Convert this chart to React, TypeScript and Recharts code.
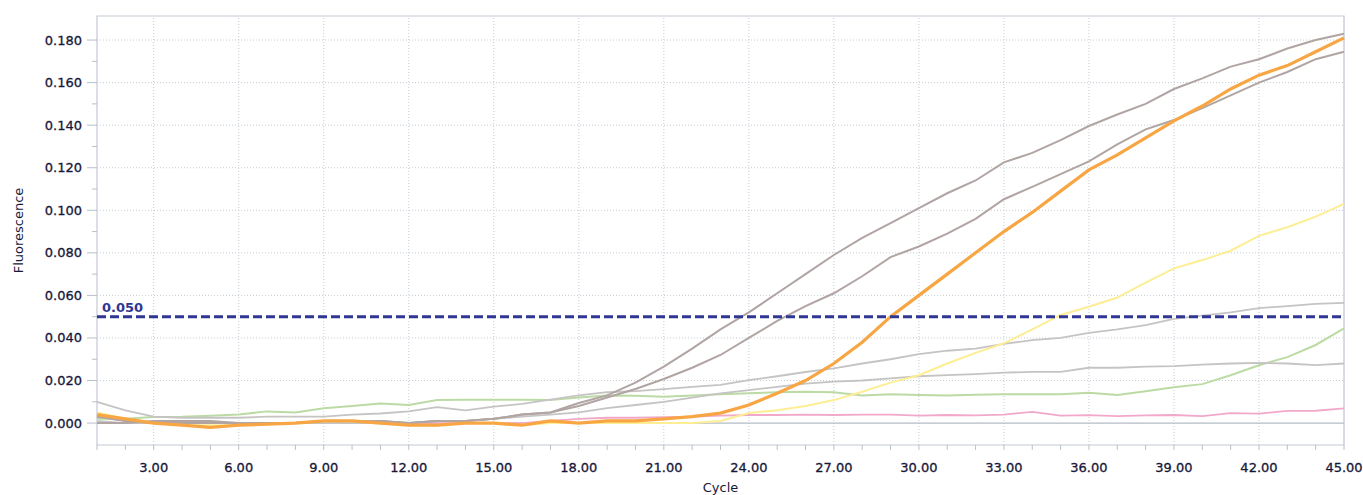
import { LineChart, Line, XAxis, YAxis, ReferenceLine, ReferenceArea } from 'recharts'

const cycles = [
  1, 2, 3, 4, 5, 6, 7, 8, 9, 10, 11, 12, 13, 14, 15, 16, 17, 18, 19, 20, 21, 22, 23,
  24, 25, 26, 27, 28, 29, 30, 31, 32, 33, 34, 35, 36, 37, 38, 39, 40, 41, 42, 43, 44, 45,
]

const orange = [
  0.004, 0.002, 0.0, -0.001, -0.002, -0.001, -0.0005, 0.0, 0.001, 0.001, 0.0, -0.001, -0.001, 0.0, 0.0,
  -0.001, 0.001, 0.0, 0.001, 0.001, 0.002, 0.003, 0.0047, 0.0085, 0.014, 0.02, 0.028, 0.038, 0.05, 0.06,
  0.07, 0.08, 0.09, 0.099, 0.109, 0.119, 0.126, 0.134, 0.142, 0.149, 0.157, 0.1635, 0.168, 0.1745, 0.181,
]
const grayA = [
  0.0, 0.0, 0.001, 0.001, 0.001, 0.0, 0.0, 0.0, 0.001, 0.001, 0.001, 0.0, 0.001, 0.001, 0.002,
  0.004, 0.005, 0.0094, 0.013, 0.019, 0.0265, 0.035, 0.044, 0.052, 0.061, 0.07, 0.079, 0.087, 0.094, 0.101,
  0.108, 0.114, 0.1225, 0.127, 0.133, 0.1396, 0.145, 0.15, 0.157, 0.162, 0.1675, 0.171, 0.176, 0.18, 0.183,
]
const grayB = [
  0.003, 0.001, 0.0, 0.0, 0.0, 0.0, 0.0, 0.0, 0.001, 0.001, 0.001, 0.0, 0.001, 0.001, 0.002,
  0.004, 0.005, 0.008, 0.012, 0.016, 0.0207, 0.026, 0.032, 0.04, 0.048, 0.055, 0.061, 0.069, 0.078, 0.083,
  0.089, 0.096, 0.1052, 0.111, 0.117, 0.123, 0.131, 0.138, 0.1424, 0.148, 0.154, 0.16, 0.165, 0.171, 0.1745,
]
const grayC = [
  0.01, 0.006, 0.003, 0.0025, 0.0025, 0.0025, 0.003, 0.003, 0.003, 0.004, 0.0045, 0.0055, 0.0075, 0.006, 0.0077,
  0.009, 0.011, 0.013, 0.0145, 0.015, 0.016, 0.017, 0.018, 0.0202, 0.022, 0.024, 0.0257, 0.028, 0.03, 0.0324,
  0.034, 0.035, 0.0372, 0.039, 0.04, 0.0424, 0.044, 0.046, 0.049, 0.0505, 0.052, 0.054, 0.055, 0.056, 0.0565,
]
const grayD = [
  0.001, 0.0, 0.0, 0.0, 0.0, 0.0, 0.0, 0.0, 0.0, 0.0, 0.0, 0.0, 0.001, 0.001, 0.002,
  0.003, 0.004, 0.005, 0.007, 0.0085, 0.01, 0.012, 0.014, 0.0155, 0.017, 0.0185, 0.0195, 0.02, 0.021, 0.022,
  0.0225, 0.023, 0.0237, 0.0241, 0.0241, 0.026, 0.026, 0.0265, 0.0268, 0.0275, 0.028, 0.0283, 0.028, 0.0272, 0.028,
]
const green = [
  0.002, 0.002, 0.0028, 0.003, 0.0035, 0.004, 0.0055, 0.005, 0.007, 0.008, 0.0092, 0.0085, 0.0108, 0.011, 0.011,
  0.011, 0.0108, 0.012, 0.013, 0.0128, 0.0124, 0.013, 0.0135, 0.014, 0.0145, 0.0147, 0.0145, 0.013, 0.0135, 0.0132,
  0.013, 0.0133, 0.0136, 0.0136, 0.0136, 0.0142, 0.0132, 0.015, 0.0168, 0.0183, 0.0225, 0.0272, 0.031, 0.0367, 0.0445,
]
const yellow = [
  0.005, 0.002, 0.0, -0.001, -0.001, -0.001, 0.0, 0.0, 0.001, 0.001, 0.0, -0.001, -0.001, 0.0, 0.0,
  -0.001, 0.0, 0.0, 0.0, 0.0, 0.0, 0.0, 0.001, 0.0047, 0.006, 0.008, 0.0108, 0.0147, 0.019, 0.0225,
  0.028, 0.033, 0.0375, 0.044, 0.0508, 0.0547, 0.059, 0.066, 0.0727, 0.0766, 0.081, 0.088, 0.092, 0.097, 0.103,
]
const pink = [
  0.003, 0.001, 0.0, 0.0, 0.0, 0.0, 0.0, 0.0, 0.001, 0.001, 0.0, 0.0, 0.0, 0.0, 0.0,
  0.0, 0.001, 0.002, 0.0025, 0.0025, 0.0028, 0.003, 0.0035, 0.0038, 0.0038, 0.004, 0.0038, 0.004, 0.004, 0.0035,
  0.0038, 0.0036, 0.004, 0.0053, 0.0035, 0.0037, 0.0033, 0.0036, 0.0038, 0.0033, 0.0047, 0.0044, 0.0057, 0.0058, 0.0069,
]

const xTicks = cycles
const xLabelled = [3, 6, 9, 12, 15, 18, 21, 24, 27, 30, 33, 36, 39, 42, 45]
const yTicks = [
  0, 0.01, 0.02, 0.03, 0.04, 0.05, 0.06, 0.07, 0.08, 0.09, 0.1, 0.11, 0.12, 0.13, 0.14, 0.15, 0.16, 0.17, 0.18,
]
const yGrid = [0.02, 0.04, 0.06, 0.08, 0.1, 0.12, 0.14, 0.16, 0.18]
const threshold = 0.05

const data = cycles.map((c, i) => ({
  cycle: c,
  orange: orange[i],
  grayA: grayA[i],
  grayB: grayB[i],
  grayC: grayC[i],
  grayD: grayD[i],
  green: green[i],
  yellow: yellow[i],
  pink: pink[i],
}))

const FONT = '"DejaVu Sans", Verdana, sans-serif'
const TEXT = '#17173a'
const GRID = '#c3ccd6'

function YTick({ x, y, payload }: any) {
  const v = payload.value
  const major = Math.round(v * 100) % 2 === 0
  return (
    <g>
      <line x1={major ? x - 10 : x - 5} x2={x} y1={y} y2={y} stroke="#b8c0ca" />
      {major && (
        <text x={x - 15} y={y + 4.5} textAnchor="end" fontSize={13} fontFamily={FONT} fill={TEXT} stroke={TEXT} strokeWidth={0.3}>
          {v.toFixed(3)}
        </text>
      )}
    </g>
  )
}

function XTick({ x, y, payload }: any) {
  const v = payload.value
  return (
    <g>
      <line x1={x} x2={x} y1={y} y2={y + 5} stroke="#b8c0ca" />
      {xLabelled.includes(v) && (
        <text x={x} y={y + 27} textAnchor="middle" fontSize={13} fontFamily={FONT} fill={TEXT} stroke={TEXT} strokeWidth={0.3}>
          {v.toFixed(2)}
        </text>
      )}
    </g>
  )
}

export default function App() {
  return (
    <div style={{ position: 'absolute', left: 0, top: 0, background: '#fff' }}>
      <LineChart width={1363} height={495} data={data} margin={{ top: 16, right: 19, left: 0, bottom: 0 }}>
        <XAxis
          dataKey="cycle"
          type="number"
          domain={[1, 45]}
          ticks={xTicks}
          interval={0}
          tickSize={0}
          tickMargin={0}
          axisLine={false}
          tickLine={false}
          height={50}
          tick={<XTick />}
          label={{ value: 'Cycle', position: 'insideBottom', offset: 3, fontSize: 13, fontFamily: FONT, fill: TEXT }}
        />
        <YAxis
          type="number"
          domain={[-0.0103, 0.1913]}
          allowDataOverflow
          ticks={yTicks}
          interval={0}
          tickSize={0}
          tickMargin={0}
          axisLine={false}
          tickLine={false}
          width={97}
          tick={<YTick />}
          label={{
            value: 'Fluorescence',
            angle: -90,
            position: 'insideLeft',
            offset: 18,
            style: { textAnchor: 'middle' },
            fontSize: 13,
            fontFamily: FONT,
            fill: TEXT,
          }}
        />
        {xLabelled.map((c) => (
          <ReferenceLine key={'vx' + c} x={c} stroke={GRID} strokeDasharray="1 2" />
        ))}
        {yGrid.map((v) => (
          <ReferenceLine key={'hy' + v} y={v} stroke={GRID} strokeDasharray="1 2" />
        ))}
        <ReferenceLine y={0} stroke="#b4bcc6" strokeWidth={1.2} />
        <ReferenceArea x1={1} x2={45} y1={-0.0103} y2={0.1913} fill="none" stroke="#c3cad4" strokeWidth={1.2} />

        <Line dataKey="pink" stroke="#f2a8c8" strokeWidth={1.8} dot={false} isAnimationActive={false} />
        <Line dataKey="green" stroke="#bcdba4" strokeWidth={2} dot={false} isAnimationActive={false} />
        <Line dataKey="grayD" stroke="#c6c3c3" strokeWidth={1.8} dot={false} isAnimationActive={false} />
        <Line dataKey="grayC" stroke="#c6c3c3" strokeWidth={1.8} dot={false} isAnimationActive={false} />
        <Line dataKey="yellow" stroke="#fdee94" strokeWidth={2} dot={false} isAnimationActive={false} />
        <Line dataKey="grayB" stroke="#b0a5a3" strokeWidth={2} dot={false} isAnimationActive={false} />
        <Line dataKey="grayA" stroke="#b0a5a3" strokeWidth={2} dot={false} isAnimationActive={false} />
        <Line dataKey="orange" stroke="#f8a643" strokeWidth={3.2} dot={false} isAnimationActive={false} />

        <ReferenceLine
          y={threshold}
          stroke="#2f3694"
          strokeWidth={3}
          strokeDasharray="9 4"
          label={{
            value: '0.050',
            position: 'insideBottomLeft',
            offset: 5,
            fontSize: 13,
            fontWeight: 'bold',
            fontFamily: FONT,
            fill: '#2f3694',
          }}
        />
      </LineChart>
    </div>
  )
}
